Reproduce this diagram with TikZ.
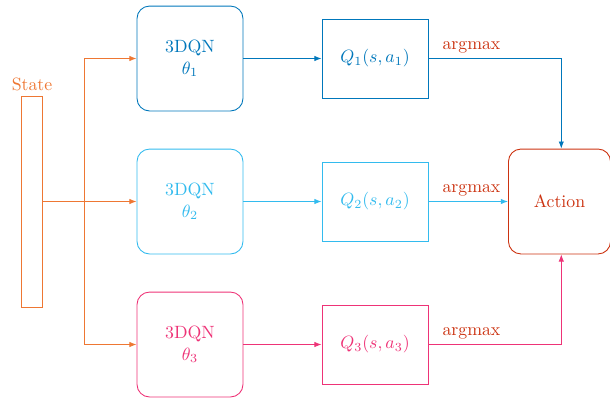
\documentclass[tikz,border=0pt]{standalone}
\usetikzlibrary{arrows.meta,calc}
\definecolor{tolblue}{HTML}{0077BB}
\definecolor{tolcyan}{HTML}{33BBEE}
\definecolor{tolmagenta}{HTML}{EE3377}
\definecolor{tolorange}{HTML}{EE7733}
\definecolor{tolred}{HTML}{CC3311}
\tikzset{
  netbox/.style={draw, rounded corners=7pt, minimum width=59.6pt, minimum height=59pt, inner sep=0pt, align=center, line width=0.5pt},
  qbox/.style={draw, minimum width=59.6pt, minimum height=44.4pt, inner sep=0pt, line width=0.5pt},
  conn/.style={line width=0.5pt},
  arr/.style={conn, -{Latex[length=4pt,width=3pt]}},
  amlabel/.style={text=tolred, above, inner sep=3pt},
}
\begin{document}
\begin{tikzpicture}[x=0.5625pt,y=-0.5625pt]
\useasboundingbox (0,0) rectangle (610,398);
% state
\node[draw=tolorange, minimum width=11.8pt, minimum height=118.7pt, inner sep=0pt, line width=0.5pt] (state) at (31.5,201.5) {};
\node[text=tolorange] (statelabel) at (32,84) {State};
% networks
\node[netbox, draw=tolblue, text=tolblue] (n1) at (190,58.5) {3DQN\\$\theta_1$};
\node[netbox, draw=tolcyan, text=tolcyan] (n2) at (190,201.5) {3DQN\\$\theta_2$};
\node[netbox, draw=tolmagenta, text=tolmagenta] (n3) at (190,344.5) {3DQN\\$\theta_3$};
% Q boxes
\node[qbox, draw=tolblue, text=tolblue] (q1) at (375,58.5) {$Q_1(s,a_1)$};
\node[qbox, draw=tolcyan, text=tolcyan] (q2) at (375,201.5) {$Q_2(s,a_2)$};
\node[qbox, draw=tolmagenta, text=tolmagenta] (q3) at (375,344.5) {$Q_3(s,a_3)$};
% action
\node[netbox, draw=tolred, text=tolred, minimum width=57.4pt] (action) at (559.5,201.5) {Action};
% state connectors
\coordinate (split) at (84,201.5);
\draw[arr, draw=tolorange, fill=tolorange] (state.east) -- (n2.west);
\draw[conn, tolorange] (split |- n1.west) -- (split |- n3.west);
\draw[arr, draw=tolorange, fill=tolorange] (split |- n1.west) -- (n1.west);
\draw[arr, draw=tolorange, fill=tolorange] (split |- n3.west) -- (n3.west);
% net to Q
\draw[arr, tolblue] (n1.east) -- (q1.west);
\draw[arr, tolcyan] (n2.east) -- (q2.west);
\draw[arr, tolmagenta] (n3.east) -- (q3.west);
% Q to action
\draw[arr, tolblue] (q1.east) -| ([xshift=1pt]action.north);
\draw[arr, tolcyan] (q2.east) -- (action.west);
\draw[arr, tolmagenta] (q3.east) -| ([xshift=1pt]action.south);
% labels
\path (q1.east) ++(43,0) node[amlabel] (am1) {argmax};
\path (q2.east) ++(43,0) node[amlabel] (am2) {argmax};
\path (q3.east) ++(43,0) node[amlabel] (am3) {argmax};
\end{tikzpicture}
\end{document}
